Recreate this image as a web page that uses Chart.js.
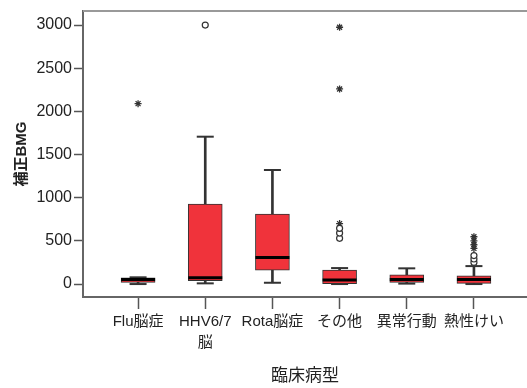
<!DOCTYPE html>
<html>
<head>
<meta charset="utf-8">
<script src="https://cdn.jsdelivr.net/npm/chart.js@4.4.1/dist/chart.umd.min.js"></script>
<style>
  body { margin: 0; background: #fff; }
  #wrap { width: 527px; height: 388px; }
</style>
</head>
<body>
<div id="wrap"><canvas id="myChart"></canvas></div>
<script>
// 箱ひげ図のデータ
const categories = ['Flu脳症', ['HHV6/7', '脳'], 'Rota脳症', 'その他', '異常行動', '熱性けい'];
const yTicks = [0, 500, 1000, 1500, 2000, 2500, 3000];

const whiskerLow  = [0, 8, 15, 0, 5, 0];
const q1          = [20, 38, 162, 4, 20, 8];
const median      = [54, 73, 309, 46, 54, 54];
const q3          = [73, 927, 811, 162, 108, 96];
const whiskerHigh = [78, 1707, 1321, 185, 182, 208];

// 外れ値 (○) と極値 (*)
const circleCat = [2, 4, 4, 4, 6, 6, 6];
const circleVal = [3000, 530, 590, 645, 250, 290, 330];
const starCat = [1, 4, 4, 4, 6, 6, 6, 6];
const starVal = [2090, 2975, 2260, 700, 413, 455, 500, 548];

const xs = categories.map((c, i) => i + 1);
const fontFam = "'Liberation Sans', 'Noto Sans CJK JP', sans-serif";
const red = '#f0333b';
const dark = '#333';

const frameTop = {
  id: 'frameTop',
  afterDraw(chart) {
    const {ctx, chartArea} = chart;
    ctx.save();
    ctx.strokeStyle = '#999';
    ctx.lineWidth = 2;
    ctx.beginPath();
    ctx.moveTo(chartArea.left, chartArea.top);
    ctx.lineTo(chartArea.right, chartArea.top);
    ctx.stroke();
    ctx.restore();
  }
};

let ctx = document.getElementById('myChart');

let myChart = new Chart(ctx, {
  type: 'bar',
  data: {
    datasets: [
      {
        type: 'bar',
        data: xs.map((x, i) => ({x: x, y: [whiskerLow[i], whiskerHigh[i]]})),
        backgroundColor: dark,
        barThickness: 2,
        grouped: false,
        order: 3
      },
      {
        type: 'scatter',
        data: xs.map((x, i) => ({x: x, y: whiskerHigh[i]}))
          .concat(xs.map((x, i) => ({x: x, y: whiskerLow[i]}))),
        pointStyle: 'line',
        radius: 8.5,
        borderColor: dark,
        borderWidth: 2,
        order: 2
      },
      {
        type: 'bar',
        data: xs.map((x, i) => ({x: x, y: [q1[i], q3[i]]})),
        backgroundColor: red,
        borderColor: dark,
        borderWidth: 1,
        borderSkipped: false,
        barThickness: 34,
        grouped: false,
        order: 1
      },
      {
        type: 'scatter',
        data: xs.map((x, i) => ({x: x, y: median[i]})),
        pointStyle: 'line',
        radius: 17,
        borderColor: '#000',
        borderWidth: 3,
        order: 0
      },
      {
        type: 'scatter',
        data: circleCat.map((c, i) => ({x: c, y: circleVal[i]})),
        pointStyle: 'circle',
        radius: 3,
        backgroundColor: '#fff',
        borderColor: dark,
        borderWidth: 1.2,
        order: 0
      },
      {
        type: 'scatter',
        data: starCat.map((c, i) => ({x: c, y: starVal[i]})),
        pointStyle: 'star',
        radius: 3.5,
        borderColor: dark,
        borderWidth: 1.3,
        order: 0
      }
    ]
  },
  options: {
    responsive: true,
    maintainAspectRatio: false,
    animation: false,
    layout: { autoPadding: false, padding: { top: 11, right: 0, left: 0, bottom: 0 } },
    plugins: { legend: { display: false }, tooltip: { enabled: false } },
    scales: {
      x: {
        type: 'linear',
        offset: false,
        min: 0.18,
        max: 6.79,
        afterBuildTicks: (scale) => { scale.ticks = xs.map(v => ({value: v})); },
        afterFit: (scale) => {
          scale.height = 91;
          scale.paddingLeft = 0;
          scale.paddingRight = 0;
        },
        grid: { offset: false, drawOnChartArea: false, tickLength: 12, tickColor: '#555', tickWidth: 1.5 },
        border: { color: '#666', width: 2 },
        ticks: {
          padding: 3,
          color: '#222',
          maxRotation: 0,
          autoSkip: false,
          font: { family: fontFam, size: 15, lineHeight: 1.35 },
          callback: (v) => categories[v - 1]
        },
        title: {
          display: true,
          text: '臨床病型',
          color: '#222',
          font: { family: fontFam, size: 17, lineHeight: 1.2 },
          padding: { bottom: 1, top: 0 }
        }
      },
      y: {
        min: -150,
        max: 3163,
        afterBuildTicks: (scale) => { scale.ticks = yTicks.map(v => ({value: v})); },
        afterFit: (scale) => {
          scale.width = 83;
          scale.paddingTop = 0;
          scale.paddingBottom = 0;
        },
        grid: { drawOnChartArea: false, tickLength: 9, tickColor: '#555', tickWidth: 1.5 },
        border: { color: '#666', width: 2 },
        ticks: {
          padding: 2,
          color: '#222',
          font: { family: fontFam, size: 16 },
          callback: (v) => String(v)
        },
        title: {
          display: true,
          text: '補正BMG',
          color: '#222',
          font: { family: fontFam, size: 15, weight: 'bold', lineHeight: 1.2 },
          padding: { top: 13, bottom: 0 }
        }
      }
    }
  },
  plugins: [frameTop]
});
</script>
</body>
</html>
